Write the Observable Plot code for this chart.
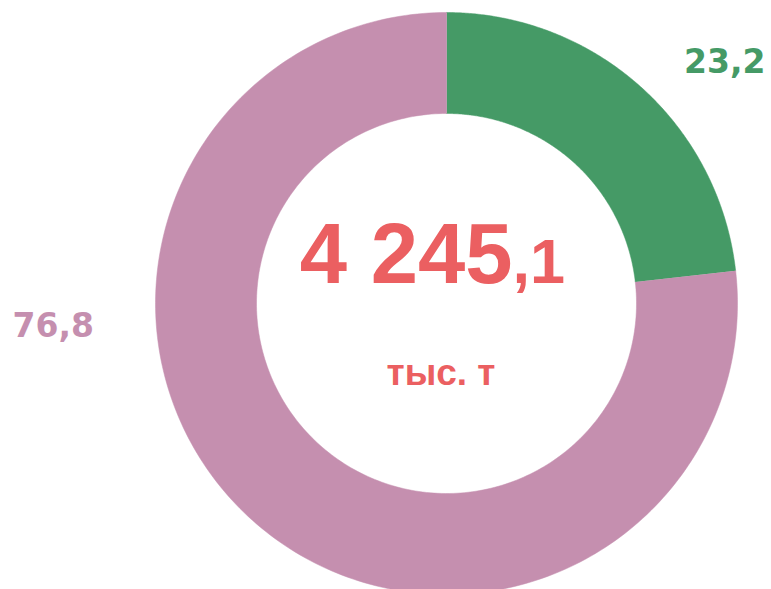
<!DOCTYPE html>
<html>
<head>
<meta charset="utf-8">
<script src="https://cdn.jsdelivr.net/npm/d3@7"></script>
<script src="https://cdn.jsdelivr.net/npm/@observablehq/plot@0.6"></script>
<style>
  html, body { margin: 0; padding: 0; background: #ffffff; }
  #chart { width: 771px; height: 589px; overflow: hidden; }
</style>
</head>
<body>
<div id="chart"></div>
<script>
// ---- data ----
const categories = ["Зелёный", "Розовый"];
const values = [23.2, 76.8];
const valueLabels = ["23,2", "76,8"];
const colors = ["#459a66", "#c58faf"];
const totalMain = "4 245";
const totalDecimal = ",1";
const unitLabel = "тыс. т";

// ---- geometry (ring in chart units, outer radius = 291) ----
const outerR = 291, innerR = 190;
const pie = d3.pie().sort(null).value(d => d.value);
const arcs = pie(categories.map((c, i) => ({category: c, value: values[i], color: colors[i]})));

const steps = 240;
const ringPts = [];
for (const a of arcs) {
  const pts = [];
  for (let k = 0; k <= steps; k++) {
    const t = a.startAngle + (a.endAngle - a.startAngle) * k / steps;
    pts.push({x: outerR * Math.sin(t), y: outerR * Math.cos(t)});
  }
  for (let k = steps; k >= 0; k--) {
    const t = a.startAngle + (a.endAngle - a.startAngle) * k / steps;
    pts.push({x: innerR * Math.sin(t), y: innerR * Math.cos(t)});
  }
  for (const p of pts) ringPts.push({...p, category: a.data.category, color: a.data.color});
}

const center = [{x: 0, y: 0}];
const labelData = categories.map((c, i) => ({category: c, label: valueLabels[i], color: colors[i]}));

const font = "'Liberation Sans', Arial, sans-serif";
const labelFont = "'DejaVu Sans', Verdana, sans-serif";
const red = "#eb5f61";

const plot = Plot.plot({
  width: 771,
  height: 589,
  margin: 0,
  x: {domain: [-446, 325], axis: null},
  y: {domain: [-286, 303], axis: null},
  style: {background: "#ffffff", fontFamily: font},
  marks: [
    Plot.line(ringPts, {x: "x", y: "y", z: "category", fill: "color", stroke: "color", strokeWidth: 0.5, curve: "linear"}),
    Plot.text(center, {x: "x", y: "y", text: () => totalMain, textAnchor: "end", lineAnchor: "bottom",
      dx: 66, dy: -21, fill: red, fontSize: 85, fontWeight: "bold", fontFamily: font}),
    Plot.text(center, {x: "x", y: "y", text: () => totalDecimal, textAnchor: "start", lineAnchor: "bottom",
      dx: 66, dy: -21, fill: red, fontSize: 63, fontWeight: "bold", fontFamily: font}),
    Plot.text(center, {x: "x", y: "y", text: () => unitLabel, textAnchor: "middle", lineAnchor: "bottom",
      dx: -5.5, dy: 81, fill: red, fontSize: 37, fontWeight: "bold", fontFamily: font}),
    Plot.text(labelData.filter((d, i) => i === 0), {frameAnchor: "top-right", text: "label", textAnchor: "end",
      lineAnchor: "bottom", dx: -6, dy: 72, fill: "color", fontSize: 33, fontWeight: "bold", fontFamily: labelFont}),
    Plot.text(labelData.filter((d, i) => i === 1), {frameAnchor: "left", text: "label", textAnchor: "start",
      lineAnchor: "bottom", dx: 12, dy: 41.5, fill: "color", fontSize: 33, fontWeight: "bold", fontFamily: labelFont})
  ]
});
document.getElementById("chart").appendChild(plot);
</script>
</body>
</html>
